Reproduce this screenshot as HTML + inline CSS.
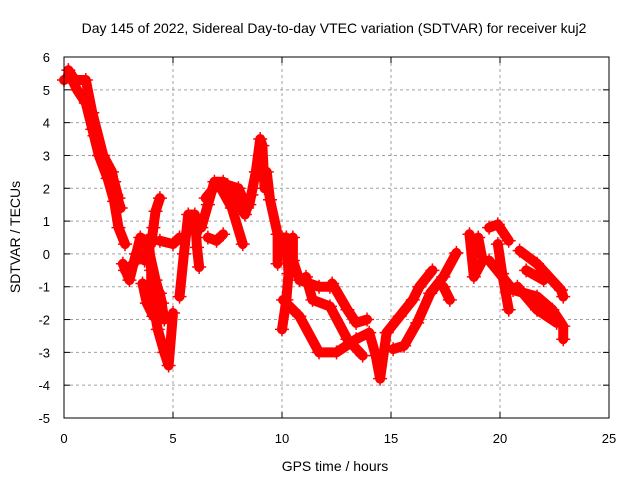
<!DOCTYPE html>
<html><head><meta charset="utf-8"><style>
body{margin:0;background:#fff;}
svg{display:block;font-family:"Liberation Sans",sans-serif;}
</style></head><body>
<svg id="chart" width="640" height="480" viewBox="0 0 640 480">
<text x="334" y="33" font-size="14" text-anchor="middle">Day 145 of 2022, Sidereal Day-to-day VTEC variation (SDTVAR) for receiver kuj2</text>
<text x="335" y="471" font-size="14" text-anchor="middle">GPS time / hours</text>
<text transform="translate(20,237) rotate(-90)" font-size="14" text-anchor="middle">SDTVAR / TECUs</text>
<g id="grid"></g>
<g id="series"></g>
<rect x="64" y="57" width="545" height="361" fill="none" stroke="#000" stroke-width="1"/>
<g id="ticks"></g>
</svg>
<script>
const xTicks=[0,5,10,15,20,25];
const yTicks=[-5,-4,-3,-2,-1,0,1,2,3,4,5,6];
// tracks: [hour, value] pairs
const track1=[[0,5.3],[0.3,5.4],[0.6,5.0],[1,4.6],[1.3,3.8],[1.6,3.0],[2,2.3],[2.3,1.6],[2.5,0.8],[2.8,0.3]];
const track2=[[0.2,5.6],[0.5,5.3],[1,5.3],[1.3,4.3],[1.8,3.0],[2.2,2.5],[2.4,1.8],[2.6,1.4]];
const track2b=[[1.4,3.6],[1.9,2.7],[2.3,2.2],[2.5,1.7]];
const track3=[[2.7,-0.3],[3,-0.8],[3.3,0],[3.7,-0.2],[3.9,0.3],[4.0,-0.5],[4.0,-1.2],[4.3,-2.3],[4.6,-3.0],[4.8,-3.4],[5.0,-1.8]];
const track3b=[[2.8,-0.5],[3.2,-0.3],[3.5,0.5],[3.8,0.4],[4.2,-0.8],[4.5,-1.5]];
const track4=[[3.6,-0.9],[3.8,-1.5],[4.1,-1.9],[4.4,-1.2],[4.6,-2.0]];
const track5=[[4.0,0.3],[4.1,0.8],[4.2,1.3],[4.4,1.7]];
const track6=[[4.4,0.4],[5,0.3],[5.3,0.5]];
const track7=[[5.3,-1.3],[5.5,0],[5.7,1.2],[6.0,1.2],[6.1,0.2],[6.2,-0.4]];
const track8=[[6.3,0.8],[6.6,1.5],[6.9,2.2],[7.3,2.2],[7.7,2.0],[8,1.6],[8.3,1.2],[8.6,1.8]];
const track8b=[[6.5,1.7],[7,2.1],[7.5,2.1],[8,2.0],[8.4,1.4]];
const track9=[[7.2,2.0],[7.7,1.4],[8.2,0.3]];
const track10=[[6.6,0.5],[7,0.4],[7.3,0.6]];
const track11=[[8.5,1.5],[8.8,2.5],[9.0,3.5],[9.1,3.3],[9.2,2.0]];
const track12=[[9.3,2.5],[9.45,1.65],[9.8,0.6],[9.8,-0.3]];
const track13=[[10,0.5],[10.2,0.5],[10.3,-0.6],[10.2,-1.4],[10.0,-2.3]];
const track14=[[10.5,0.5],[10.5,-0.2],[10.8,-0.8],[11.7,-1.0],[12.2,-1.0]];
const track15=[[10.05,-1.4],[10.8,-1.9],[11.7,-3.0],[12.5,-3.0],[13.4,-2.6],[14.0,-2.4],[14.3,-3.1],[14.5,-3.8],[14.8,-2.4]];
const track16=[[12.3,-0.9],[13,-1.7],[13.4,-2.1],[13.9,-2.0]];
const track17=[[11.1,-0.7],[11.4,-1.4],[12.2,-1.6],[13,-2.6],[13.7,-3.1]];
const track18=[[14.8,-2.4],[15.4,-1.9],[16,-1.4],[16.3,-1.0],[16.9,-0.5]];
const track19=[[15.1,-2.9],[15.6,-2.8],[16.2,-2.1],[16.8,-1.2],[17.4,-0.7],[18,0.03]];
const track20=[[17.4,-1.0],[17.7,-1.4]];
const track21=[[18.6,0.6],[18.8,-0.7],[19.2,-0.2],[19.0,0.5]];
const track22=[[19.5,0.8],[19.9,0.9],[20.4,0.4]];
const track23=[[19.9,0.3],[20.1,-0.6],[20.4,-1.7]];
const track24=[[19.5,-0.2],[20.6,-1.1],[21.7,-1.3],[22.4,-1.7],[22.9,-2.2],[22.9,-2.6]];
const track25=[[20.9,0.1],[21.7,-0.3],[22.8,-1.1],[22.9,-1.3]];
const track26=[[21.2,-0.5],[22,-0.8]];
const track27=[[20.8,-1.0],[21.7,-1.7],[22.6,-2.1]];
const tracks=[track1,track2,track2b,track3,track3b,track4,track5,track6,track7,track8,track8b,track9,track10,track11,track12,track13,track14,track15,track16,track17,track18,track19,track20,track21,track22,track23,track24,track25,track26,track27];

const X0=64,X1=609,Y0=418,Y1=57;
const xs=h=>X0+(h-0)/(25-0)*(X1-X0);
const ys=v=>Y0-(v-(-5))/(6-(-5))*(Y0-Y1);
const NS="http://www.w3.org/2000/svg";
const grid=document.getElementById('grid'),ticks=document.getElementById('ticks'),series=document.getElementById('series');
function mk(tag,attrs,parent){const e=document.createElementNS(NS,tag);for(const k in attrs)e.setAttribute(k,attrs[k]);parent.appendChild(e);return e;}
xTicks.forEach(t=>{
  const x=xs(t);
  if(t>0&&t<25){const g=mk('line',{x1:x,x2:x,y1:Y1,y2:Y0,stroke:'#a0a0a0','stroke-dasharray':'3,3'},grid);
  
  }
  mk('line',{x1:x,x2:x,y1:Y0,y2:Y0-6,stroke:'#000'},ticks);
  mk('line',{x1:x,x2:x,y1:Y1,y2:Y1+6,stroke:'#000'},ticks);
  const l=mk('text',{x:x,y:443,'font-size':13,'text-anchor':'middle'},ticks);l.textContent=t;
  
  
});
yTicks.forEach(t=>{
  const y=ys(t);
  if(t>-5&&t<6){const g=mk('line',{x1:X0,x2:X1,y1:y,y2:y,stroke:'#a0a0a0','stroke-dasharray':'3,3'},grid);
  
  }
  mk('line',{x1:X0,x2:X0+6,y1:y,y2:y,stroke:'#000'},ticks);
  mk('line',{x1:X1,x2:X1-6,y1:y,y2:y,stroke:'#000'},ticks);
  const l=mk('text',{x:50,y:y+5,'font-size':13,'text-anchor':'end'},ticks);l.textContent=t;
  
  
});
tracks.forEach(tr=>{
  const p=mk('polyline',{points:tr.map(d=>xs(d[0])+','+ys(d[1])).join(' '),fill:'none',stroke:'#ff0000','stroke-width':10,'stroke-linejoin':'round','stroke-linecap':'round'},series);
  
  
  tr.forEach(d=>{
    const x=xs(d[0]),y=ys(d[1]);
    const m=mk('path',{d:`M${x-7},${y}H${x+7}M${x},${y-7}V${y+7}`,stroke:'#ff0000','stroke-width':1.5},series);
    
    
  });
});
</script>
</body></html>
